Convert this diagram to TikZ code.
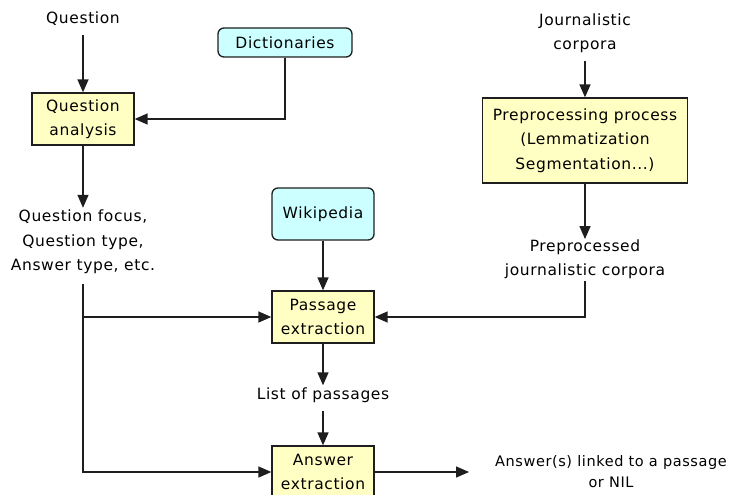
\documentclass[tikz,border=0pt]{standalone}
\usepackage{fontspec}
\setmainfont[LetterSpace=4]{DejaVu Sans}
\usepackage{tikz}
\usepackage{xcolor}
\usetikzlibrary{shapes.geometric}
\usetikzlibrary{positioning}
\usetikzlibrary{arrows.meta,calc}
\definecolor{boxyellow}{RGB}{255,255,196}
\definecolor{boxcyan}{RGB}{204,255,255}
\definecolor{edge}{RGB}{30,30,30}

\begin{document}
\begin{tikzpicture} [
       x=1pt, y=-1pt,
       font=\fontsize{15.5}{24.5}\selectfont,
       process/.style={rectangle, draw=edge, line width=1.3pt, fill=boxyellow,
               align=center, inner sep=0pt, minimum width=102pt, minimum height=52pt},
       source/.style={rectangle, draw=edge, line width=1.3pt, fill=boxcyan,
               rounded corners=6pt, align=center, inner sep=0pt},
       texte/.style={align=center, inner sep=2pt},
        line/.style     = { draw, line width=1.4pt, edge, -{Triangle[length=13pt,width=11pt]} },
       ]
       \useasboundingbox (0,0) rectangle (731,495);
       \node (question) [texte] at (83,19) {Question};
       \node (qanalysis) [process] at (83,119) {Question\\analysis};
       \node (dict) [source, minimum width=134pt, minimum height=29pt] at (285,42.5) {Dictionaries};
       \node (focus) [texte] at (83,242) {Question focus,\\Question type,\\Answer type, etc.};
       \node (wiki) [source, minimum width=102pt, minimum height=52pt] at (323,214) {Wikipedia};
       \node (journ) [texte] at (585,33) {Journalistic\\corpora};
       \node (prep) [process, minimum width=205pt, minimum height=85pt] at (585,140.5) {Preprocessing process\\(Lemmatization\\Segmentation...)};
       \node (prepd) [texte] at (585,259) {Preprocessed\\journalistic corpora};
       \node (pextract) [process] at (323,317) {Passage\\extraction};
       \node (plist) [texte] at (323,395) {List of passages};
       \node (aextract) [process] at (323,472) {Answer\\extraction};
       \node (answer) [texte, font=\fontsize{14.5}{21}\selectfont] at (611,472) {Answer(s) linked to a passage\\or NIL};
        \begin{scope}[every path/.style=line]
        \path ([yshift=-7pt]question.south) -- (qanalysis);
        \path (dict.south) |- (qanalysis.east);
        \path (qanalysis) -- (focus.north);
        \path ([yshift=-8pt]focus.south) |- (pextract.west);
        \path ([yshift=-8pt]focus.south) |- (aextract.west);
        \path (wiki) -- (pextract);
        \path ([yshift=-6pt]journ.south) -- (prep);
        \path (prep) -- ([yshift=-2pt]prepd.north);
        \path (prepd.south) |- (pextract.east);
        \path (pextract) -- (plist.north);
        \path ([yshift=-6pt]plist.south) -- (aextract);
        \path (aextract) -- ([xshift=-24pt]answer.west);
        \end{scope}
\end{tikzpicture}
\end{document}
